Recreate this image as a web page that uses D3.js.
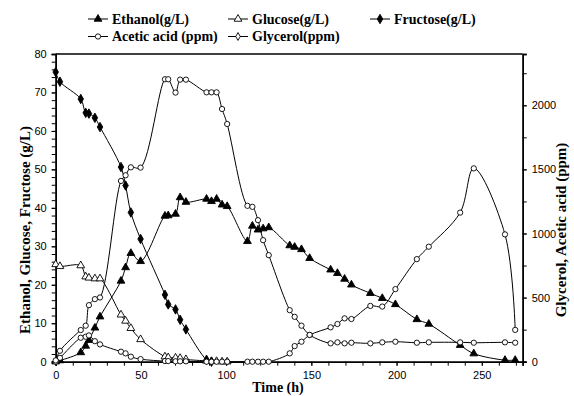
<!DOCTYPE html>
<html>
<head>
<meta charset="utf-8">
<script src="https://cdn.jsdelivr.net/npm/d3@7"></script>
<style>
  body { margin: 0; background: #ffffff; }
  svg { display: block; }
</style>
</head>
<body>
<svg id="CHART" width="574" height="396"></svg>
<script>
// Sample times (h)
var times = [0, 2.5, 14.7, 17.6, 19.5, 23, 26,
  38.3, 41, 44.1, 49.8,
  64.1, 66, 70.3, 73, 76.4,
  88.5, 91.4, 94.4, 97.6, 100.6,
  112.5, 115.4, 118.7, 121.7, 125,
  137.3, 140.2, 144.2, 149,
  161.3, 165.3, 169.5, 173.5,
  184.6, 191.6, 199.3, 211.9, 218.9,
  237.3, 245.3, 263.6, 269.6];

// Left axis series (g/L)
var ethanol = [0, 0.3, 2.4, 4.1, 5.6, 8.8, 11.7,
  21, 24.5, 28.2, 26.1,
  37.9, 38.0, 38.4, 42.7, 41.5,
  42.3, 41.7, 42.3, 40.8, 40.4,
  31.3, 35.3, 34.3, 34.6, 34.9,
  30.2, 29.8, 29.2, 26.9,
  23.9, 23.0, 21.5, 20.0,
  17.8, 16.5, 14.9, 11.0, 9.8,
  4.3, 2.1, 0.4, 0.4];
var glucose = [25.3, 24.8, 25.0, 22.1, 21.8, 21.6, 21.6,
  12.2, 10.6, 8.7, 5.8,
  1.3, 1.1, 1.0, 0.9, 0.6,
  0.2, 0.1, 0.1, 0, 0];
var fructose = [75.3, 72.8, 68.3, 64.7, 64.5, 63.4, 61.0,
  50.6, 45.8, 38.8, 31.9,
  17.4, 14.9, 13.6, 10.9, 8.4,
  0.5, 0];

// Right axis series (ppm)
var glycerol = [10, 85, 247, 281, 441, 488, 501,
  1410, 1454, 1516, 1514,
  2203, 2203, 2099, 2200, 2200,
  2101, 2101, 2101, 1971, 1854,
  1216, 1208, 1104, 948, 831,
  402, 350, 281, 209,
  143, 151, 143, 148,
  143, 151, 156, 148, 151,
  151, 148, 151, 148];
var acetic = [0, 30, 187, 195, 205, 160, 135,
  78, 65, 39, 20,
  5, 5, 3, 3, 3,
  0, 0, 0, 0, 0,
  0, 0, 0, 0, 0,
  65, 122, 156, 208,
  268, 294, 338, 333,
  435, 430, 566, 800, 897,
  1163, 1508, 993, 248];

var xTicks = [0, 50, 100, 150, 200, 250];
var yLeftTicks = [0, 10, 20, 30, 40, 50, 60, 70, 80];
var yRightTicks = [0, 500, 1000, 1500, 2000];

var MARGIN = { LEFT: 55.7, RIGHT: 522.7, TOP: 54, BOTTOM: 361.7 };

var svg = d3.select("#CHART");

var xScale = d3.scaleLinear().domain([0, 274]).range([MARGIN.LEFT, MARGIN.RIGHT]);
var yLeft = d3.scaleLinear().domain([0, 80]).range([MARGIN.BOTTOM, MARGIN.TOP]);
var yRight = d3.scaleLinear().domain([0, 2400]).range([MARGIN.BOTTOM, MARGIN.TOP]);

var tickFont = "Liberation Sans, Arial, sans-serif";
var titleFont = "Liberation Serif, Times New Roman, serif";

// Axes: minor ticks first, then major with labels
function styleAxis(g) {
  g.selectAll("path").attr("stroke", "#000").attr("stroke-width", 1.5);
  g.selectAll(".tick line").attr("stroke", "#000");
  g.selectAll("text").attr("font-family", tickFont).attr("font-size", 11).attr("fill", "#000");
}

// bottom
svg.append("g")
  .attr("transform", "translate(0," + MARGIN.BOTTOM + ")")
  .call(d3.axisBottom(xScale).tickValues(d3.range(0, 271, 10)).tickSize(4).tickFormat(""))
  .call(styleAxis);
svg.append("g")
  .attr("transform", "translate(0," + MARGIN.BOTTOM + ")")
  .call(d3.axisBottom(xScale).tickValues(xTicks).tickSize(4).tickPadding(6).tickFormat(d3.format("d")))
  .call(styleAxis);

// left
svg.append("g")
  .attr("transform", "translate(" + MARGIN.LEFT + ",0)")
  .call(d3.axisLeft(yLeft).tickValues(d3.range(0, 81, 2)).tickSize(4).tickFormat(""))
  .call(styleAxis);
svg.append("g")
  .attr("transform", "translate(" + MARGIN.LEFT + ",0)")
  .call(d3.axisLeft(yLeft).tickValues(yLeftTicks).tickSize(4).tickPadding(5).tickFormat(d3.format("d")))
  .call(styleAxis);

// right
svg.append("g")
  .attr("transform", "translate(" + MARGIN.RIGHT + ",0)")
  .call(d3.axisRight(yRight).tickValues(d3.range(0, 2401, 250)).tickSize(4).tickFormat(""))
  .call(styleAxis);
svg.append("g")
  .attr("transform", "translate(" + MARGIN.RIGHT + ",0)")
  .call(d3.axisRight(yRight).tickValues(yRightTicks).tickSize(4).tickPadding(5).tickFormat(d3.format("d")))
  .call(styleAxis);

// top border
svg.append("line")
  .attr("x1", MARGIN.LEFT).attr("x2", MARGIN.RIGHT)
  .attr("y1", MARGIN.TOP).attr("y2", MARGIN.TOP)
  .attr("stroke", "#000").attr("stroke-width", 1.5);

// Axis titles
svg.append("text")
  .attr("x", 278).attr("y", 392)
  .attr("text-anchor", "middle")
  .attr("font-family", titleFont).attr("font-weight", "bold").attr("font-size", 14)
  .text("Time (h)");
svg.append("text")
  .attr("transform", "translate(30,230) rotate(-90)")
  .attr("text-anchor", "middle")
  .attr("font-family", titleFont).attr("font-weight", "bold").attr("font-size", 15)
  .text("Ethanol, Glucose, Fructose (g/L)");
svg.append("text")
  .attr("transform", "translate(566,230) rotate(-90)")
  .attr("text-anchor", "middle")
  .attr("font-family", titleFont).attr("font-weight", "bold").attr("font-size", 15)
  .text("Glycerol, Acetic acid (ppm)");

// Marker shapes
var triSym = d3.symbol().type(d3.symbolTriangle).size(26);
var diaSym = d3.symbol().type(d3.symbolDiamond).size(26);
var smallDia = d3.symbol().type(d3.symbolDiamond).size(18);
var circSym = d3.symbol().type(d3.symbolCircle).size(22);

var series = [
  { name: "Ethanol(g/L)", vals: ethanol, y: yLeft, sym: triSym, fill: "#000" },
  { name: "Glucose(g/L)", vals: glucose, y: yLeft, sym: triSym, fill: "#fff" },
  { name: "Fructose(g/L)", vals: fructose, y: yLeft, sym: diaSym, fill: "#000" },
  { name: "Acetic acid (ppm)", vals: acetic, y: yRight, sym: circSym, fill: "#fff" },
  { name: "Glycerol(ppm)", vals: glycerol, y: yRight, sym: circSym, fill: "#fff", legSym: smallDia }
];

var line = d3.line().curve(d3.curveCatmullRom.alpha(0.5));

series.forEach(function (s) {
  var pts = s.vals.map(function (v, i) { return [xScale(times[i]), s.y(v)]; });
  svg.append("path")
    .attr("d", line(pts))
    .attr("fill", "none").attr("stroke", "#000").attr("stroke-width", 1);
  svg.append("g").selectAll("path")
    .data(pts).enter().append("path")
    .attr("transform", function (d) { return "translate(" + d[0] + "," + d[1] + ")"; })
    .attr("d", s.sym())
    .attr("fill", s.fill).attr("stroke", "#000").attr("stroke-width", 0.9);
});

// Legend
var legendPos = [
  { x: 88, y: 23.5 }, { x: 228, y: 23.5 }, { x: 370, y: 23.5 },
  { x: 88, y: 41 }, { x: 228, y: 41 }
];
series.forEach(function (s, i) {
  var p = legendPos[i];
  var g = svg.append("g").attr("transform", "translate(" + p.x + "," + (p.y - 4.5) + ")");
  g.append("line").attr("x1", 0).attr("x2", 20).attr("y1", 0).attr("y2", 0)
    .attr("stroke", "#000").attr("stroke-width", 1);
  g.append("path").attr("transform", "translate(10,0)")
    .attr("d", (s.legSym || s.sym)())
    .attr("fill", s.fill).attr("stroke", "#000").attr("stroke-width", 0.9);
  svg.append("text")
    .attr("x", p.x + 24).attr("y", p.y)
    .attr("font-family", titleFont).attr("font-weight", "bold").attr("font-size", 14)
    .text(s.name);
});
</script>
</body>
</html>
